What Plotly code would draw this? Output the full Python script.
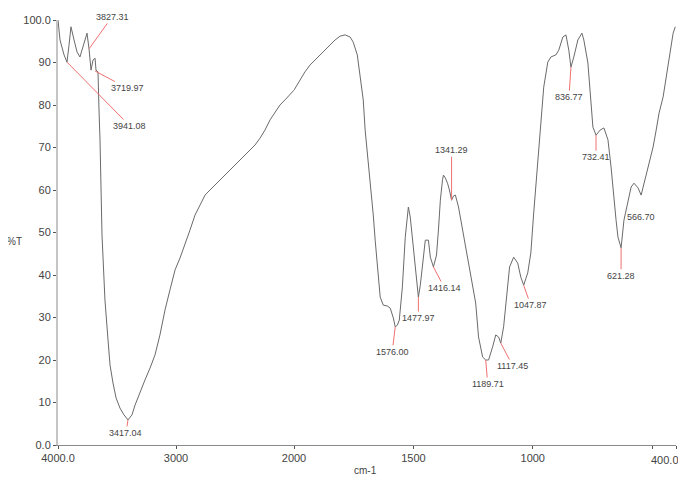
import numpy as np
import plotly.graph_objects as go

# Spectrum (wavenumber cm-1, %T)
wavenumber = [4000, 3983, 3949, 3924, 3907, 3890, 3864, 3839, 3814, 3788, 3754, 3737, 3720, 3703, 3686,
              3678, 3661, 3653, 3644, 3627, 3602, 3576, 3559, 3534, 3508, 3475, 3441, 3407, 3373, 3347,
              3305, 3263, 3220, 3178, 3136, 3093, 3051, 3008, 2966, 2924, 2881, 2839, 2797, 2754, 2712,
              2669, 2627, 2585, 2542, 2500, 2458, 2415, 2373, 2330, 2288, 2246, 2203, 2161, 2119, 2076,
              2034, 2000,
              1975, 1954, 1933, 1912, 1891, 1870, 1849, 1828, 1807, 1786, 1765, 1752, 1735, 1723, 1710,
              1702, 1689, 1681, 1668, 1660, 1647, 1639, 1626, 1609, 1597, 1584, 1576, 1567, 1559, 1546,
              1534, 1525, 1521, 1513, 1500, 1487, 1479, 1471, 1462, 1450, 1437, 1429, 1416, 1403, 1395,
              1387, 1378, 1374, 1366, 1357, 1349, 1340, 1332, 1324, 1311, 1294, 1273, 1252, 1239, 1227,
              1210, 1197, 1185, 1168, 1155, 1143, 1134, 1122, 1105, 1097, 1080, 1063, 1050, 1038, 1021,
              1008, 996, 979, 966, 954, 937, 924, 903, 891, 874, 861, 849, 840, 828, 811, 794, 786, 769,
              756, 748, 735, 718, 702, 685, 672, 664, 651, 643, 630, 618, 601, 588, 576, 559, 546, 534,
              517, 496, 483, 471, 454, 441, 429, 412, 403]
transmittance = [100.0, 95.3, 91.8, 90.1, 94.0, 98.4, 95.3, 92.5, 91.3, 94.0, 96.9, 93.2, 88.2, 90.6, 91.0,
                 88.2, 87.8, 79.3, 71.8, 49.4, 34.1, 24.7, 18.8, 14.6, 11.1, 8.7, 7.1, 5.9, 7.1, 9.4,
                 12.5, 15.3, 18.1, 21.2, 25.9, 31.8, 36.5, 41.2, 44.0, 47.1, 50.6, 54.1, 56.5, 58.8, 60.0,
                 61.2, 62.4, 63.5, 64.7, 65.9, 67.1, 68.2, 69.4, 70.6, 72.2, 74.1, 76.5, 78.4, 80.0, 81.2,
                 82.4, 83.5,
                 85.9, 87.8, 89.4, 90.6, 91.8, 92.9, 94.1, 95.3, 96.2, 96.5, 96.0, 94.8, 91.8, 87.1, 81.2,
                 74.1, 67.1, 62.4, 54.1, 48.2, 40.0, 34.8, 32.9, 32.7, 32.2, 29.9, 27.8, 28.2, 29.4, 37.2,
                 48.9, 55.3, 56.0, 53.6, 46.6, 38.8, 34.8, 37.6, 42.8, 48.2, 48.2, 44.2, 41.9, 44.7, 50.6,
                 57.6, 62.4, 63.5, 62.8, 61.6, 60.0, 57.6, 58.6, 58.8, 56.0, 50.6, 44.2, 38.1, 33.4, 25.4,
                 20.7, 20.0, 20.0, 23.1, 25.9, 25.4, 24.0, 27.8, 36.5, 41.9, 44.2, 42.8, 39.5, 37.6, 40.5,
                 45.2, 54.6, 66.4, 74.1, 84.2, 90.1, 91.3, 91.8, 92.9, 96.0, 96.5, 92.9, 88.9, 91.3, 95.3, 96.9, 95.3, 89.9,
                 81.2, 74.8, 72.9, 74.1, 74.6, 71.8, 65.4, 60.0, 52.9, 48.9, 46.4, 52.9, 57.6, 60.7, 61.6, 60.5, 58.8, 61.6,
                 65.4, 70.1, 74.1, 78.1, 81.9, 86.4, 91.3, 96.9, 98.4]

# Peak labels
peak_labels = ["3827.31", "3719.97", "3941.08", "3417.04", "1576.00", "1477.97", "1416.14", "1341.29",
               "1189.71", "1117.45", "1047.87", "836.77", "732.41", "621.28", "566.70"]
peak_w = [3737, 3686, 3924, 3407, 1576, 1479, 1416, 1340, 1197, 1134, 1038, 840, 735, 630, 546]
peak_T = [93.2, 88.0, 90.1, 5.9, 27.8, 34.8, 41.9, 57.6, 20.0, 24.0, 37.6, 88.9, 72.9, 46.4, 58.8]
label_offset = [(23, -32), (32, 17), (63, 64), (-2, 13), (-3, 25), (0, 21), (11, 21), (0, -50),
                (2, 24), (12, 23), (7, 20), (-2, 30), (0, 22), (0, 28), (0, 22)]

x_ticks_left = [4000, 3000, 2000]
x_ticktext_left = ["4000.0", "3000", ""]
x_ticks_right = [2000, 1500, 1000, 500, 400]
x_ticktext_right = ["2000", "1500", "1000", "", ""]
x_end_label = "400.0"
y_ticks = [0, 10, 20, 30, 40, 50, 60, 70, 80, 90, 100]
y_ticktext = ["0.0", "10", "20", "30", "40", "50", "60", "70", "80", "90", "100.0"]

w = np.array(wavenumber, dtype=float)
t = np.array(transmittance, dtype=float)
left = w >= 2000
right = w <= 2000

LINE = "#6a6a6a"
TXT = "#444444"
RED = "#f07070"
FONT = "Liberation Sans"

fig = go.Figure()
fig.add_trace(go.Scatter(x=w[left], y=t[left], mode="lines", line=dict(color=LINE, width=1),
                         xaxis="x", yaxis="y", showlegend=False, hoverinfo="skip"))
fig.add_trace(go.Scatter(x=w[right], y=t[right], mode="lines", line=dict(color=LINE, width=1),
                         xaxis="x2", yaxis="y", showlegend=False, hoverinfo="skip"))

split = 236 / 618
axis_common = dict(showgrid=False, zeroline=False, showline=True, linecolor="#8a8a8a", linewidth=1,
                   ticks="outside", ticklen=3, tickcolor="#555", automargin=False,
                   tickfont=dict(family=FONT, size=11, color=TXT))
fig.update_layout(
    width=678, height=470,
    margin=dict(l=50, r=10, t=12, b=33, autoexpand=False),
    plot_bgcolor="white", paper_bgcolor="white",
    xaxis=dict(domain=[0, split], range=[4000, 2000], tickvals=x_ticks_left, ticktext=x_ticktext_left,
               anchor="y", **axis_common),
    xaxis2=dict(domain=[split, 1], range=[2000, 400], tickvals=x_ticks_right, ticktext=x_ticktext_right,
                anchor="y", **axis_common),
    yaxis=dict(range=[0, 100], tickvals=y_ticks, ticktext=y_ticktext, showgrid=False, zeroline=False,
               showline=True, linecolor="#c4c4c4", linewidth=2, ticks="outside", ticklen=3, tickcolor="#555",
               automargin=False, tickfont=dict(family=FONT, size=11, color=TXT)),
)

for lab, pw, pt, (ox, oy) in zip(peak_labels, peak_w, peak_T, label_offset):
    xr = "x" if pw > 2000 else "x2"
    if lab == "566.70":
        fig.add_annotation(x=pw, y=pt, xref=xr, yref="y", text=lab, showarrow=False, yshift=-oy,
                           font=dict(family=FONT, size=9, color=TXT))
    else:
        fig.add_annotation(x=pw, y=pt, xref=xr, yref="y", text=lab, showarrow=True, arrowhead=0,
                           arrowwidth=1, arrowcolor=RED, ax=ox, ay=oy, standoff=0,
                           font=dict(family=FONT, size=9, color=TXT))

# end-of-axis tick label, kept inside the page
fig.add_annotation(xref="paper", yref="paper", x=1.008, y=-0.035, xanchor="right", yanchor="middle",
                   text=x_end_label, showarrow=False, font=dict(family=FONT, size=11, color=TXT))
fig.add_annotation(xref="paper", yref="paper", x=-0.0696, y=0.48, xanchor="center", yanchor="middle",
                   text="%T", showarrow=False, font=dict(family=FONT, size=10, color=TXT))
fig.add_annotation(xref="paper", yref="paper", x=0.497, y=-0.061, xanchor="center", yanchor="middle",
                   text="cm-1", showarrow=False, font=dict(family=FONT, size=10, color=TXT))

fig.write_html("out.html")
